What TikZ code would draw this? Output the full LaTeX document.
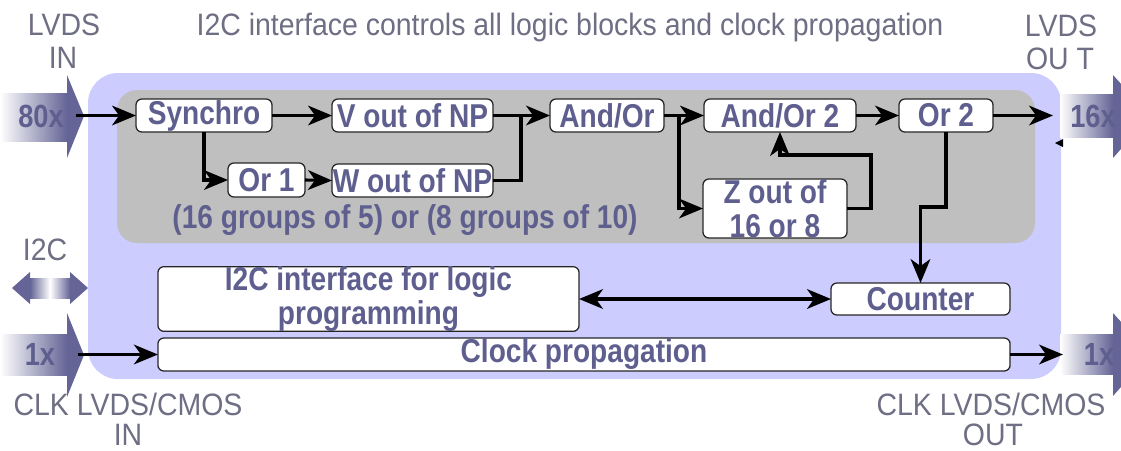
\documentclass[tikz,border=0pt]{standalone}
\usepackage{fontspec}
\setmainfont{Liberation Sans}[FakeStretch=0.85]
\newfontfamily\lblfont{Liberation Sans}[FakeStretch=0.92]
\usetikzlibrary{arrows.meta}
\definecolor{outerc}{RGB}{204,204,255}
\definecolor{grayc}{RGB}{191,191,191}
\definecolor{txtc}{RGB}{95,95,143}
\definecolor{lblc}{RGB}{110,110,132}
\definecolor{arrc}{RGB}{100,100,150}
\begin{document}
\begin{tikzpicture}[x=0.025cm,y=-0.025cm,
  blk/.style={draw=black!85, line width=0.9pt, fill=white, rounded corners=0.15cm, inner sep=0pt, outer sep=0pt, text=txtc, font=\fontsize{23.5}{24}\selectfont\bfseries, align=center},
  conn/.style={line width=2.2pt, -{Stealth[length=17pt,width=14pt,inset=5pt]}},
  link/.style={line width=2.2pt},
  lbl/.style={text=lblc, font=\lblfont\fontsize{22}{24}\selectfont, inner sep=0pt, anchor=base},
  num/.style={text=txtc, font=\fontsize{22.8}{24}\selectfont\bfseries, inner sep=0pt, anchor=base},
  bigbody/.style={left color=white, right color=arrc},
  bighead/.style={fill=arrc}
]
\useasboundingbox (0,0) rectangle (1121,450);
\fill[white] (0,0) rectangle (1121,450);
% background panels
\fill[outerc, rounded corners=0.75cm] (88,73) rectangle (1061,379);
\fill[grayc, rounded corners=0.5cm] (117,90) rectangle (1035,243);
% big input arrows
\shade[bigbody] (0,93) rectangle (67,141);
\fill[bighead] (67,75) -- (84,116) -- (67,158) -- cycle;
\shade[bigbody] (0,334) rectangle (67,375);
\fill[bighead] (67,313) -- (84,355) -- (67,397) -- cycle;
% I2C double arrow
\shade[left color=arrc, right color=arrc, middle color=white] (30,278) rectangle (70,298);
\fill[bighead] (12,288) -- (30,272) -- (30,304) -- cycle;
\fill[bighead] (88,288) -- (70,272) -- (70,304) -- cycle;
% big output arrows
\begin{scope}
\clip (0,0) rectangle (1121,450);
\shade[bigbody] (1060,94) rectangle (1113,137);
\fill[bighead] (1113,75) -- (1150,116) -- (1113,158) -- cycle;
\shade[bigbody] (1060,334) rectangle (1113,374);
\fill[bighead] (1113,313) -- (1150,354) -- (1113,396) -- cycle;
\end{scope}
\fill (1055,143) -- (1063,139) -- (1063,147) -- cycle;
% labels
\node[lbl] (title) at (570,35) {I2C interface controls all logic blocks and clock propagation};
\node[lbl] (lvdsin1) at (64,35) {LVDS};
\node[lbl] (lvdsin2) at (63,68) {IN};
\node[lbl] (lvdsout1) at (1061,36) {LVDS};
\node[lbl] (lvdsout2) at (1060,69) {OU T};
\node[lbl] (i2clbl) at (45,260) {I2C};
\node[lbl] (clkin1) at (128,415) {CLK LVDS/CMOS};
\node[lbl] (clkin2) at (128,445) {IN};
\node[lbl] (clkout1) at (991,415) {CLK LVDS/CMOS};
\node[lbl] (clkout2) at (993,445) {OUT};
\node[num] (n80) at (41,127) {80x};
\node[num] (n1in) at (40,365) {1x};
\node[num] (n16) at (1093,127) {16x};
\node[num] (n1out) at (1099,365) {1x};
% blocks
\node[blk, minimum width=3.4cm, minimum height=0.825cm] (syn) at (204,115.5) {Synchro};
\node[blk, minimum width=4.025cm, minimum height=0.825cm] (v) at (412.5,115.5) {V out of NP};
\node[blk, minimum width=2.85cm, minimum height=0.825cm] (ao) at (607,115.5) {And/Or};
\node[blk, minimum width=3.8cm, minimum height=0.825cm] (ao2) at (780,115.5) {And/Or 2};
\node[blk, minimum width=2.35cm, minimum height=0.825cm] (or2) at (946,115.5) {Or 2};
\node[blk, minimum width=1.925cm, minimum height=0.85cm] (or1) at (266.5,180) {Or 1};
\node[blk, minimum width=4.025cm, minimum height=0.825cm] (w) at (412.5,180.5) {W out of NP};
\node[blk, minimum width=3.6cm, minimum height=1.475cm] (z) at (775,208.5) {Z out of\\16 or 8};
\node[blk, minimum width=10.525cm, minimum height=1.5cm] (i2c) at (368.5,299) {I2C interface for logic\\programming};
\node[blk, minimum width=4.475cm, minimum height=0.8cm] (cnt) at (920.5,299) {Counter};
\node[blk, minimum width=21.3cm, minimum height=0.825cm] (clk) at (584,354.5) {Clock propagation};
\node[text=txtc, font=\fontsize{23.5}{24}\selectfont\bfseries, inner sep=0pt] (grp) at (405,220) {(16 groups of 5) or (8 groups of 10)};
% connector points
\coordinate (a80) at (76,115.5);
\coordinate (j1) at (521,115.5);
\coordinate (j2) at (679,115.5);
\coordinate (fb) at (871,155);
\coordinate (c1) at (920.5,207);
\coordinate (o16) at (1053,115.5);
\coordinate (a1) at (78,354.5);
\coordinate (o1) at (1063,354.5);
% connectors
\draw[conn] (a80) -- (syn.west);
\draw[conn] (syn.east) -- (v.west);
\draw[conn] (syn.south) |- (or1.west);
\draw[conn] (or1.east) -- (w.west);
\draw[conn] (v.east) -- (ao.west);
\draw[link] (w.east) -| (j1);
\draw[conn] (ao.east) -- (ao2.west);
\draw[conn] (j2) |- (z.west);
\draw[conn] (z.east) -| (fb) -| (ao2.south);
\draw[conn] (ao2.east) -- (or2.west);
\draw[conn] (or2.east) -- (o16);
\draw[conn] (or2.south) |- (c1) -- (cnt.north);
\draw[line width=2.2pt, {Stealth[length=17pt,width=14pt,inset=5pt]}-{Stealth[length=17pt,width=14pt,inset=5pt]}] (i2c.east) -- (cnt.west);
\draw[conn] (a1) -- (clk.west);
\draw[conn] (clk.east) -- (o1);
\end{tikzpicture}
\end{document}
